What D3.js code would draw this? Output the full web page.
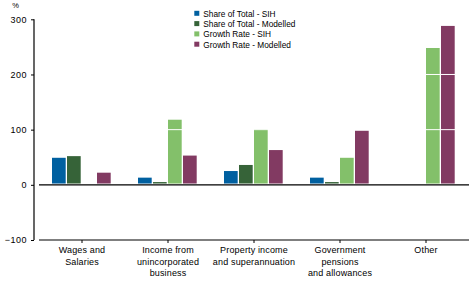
<!DOCTYPE html>
<html>
<head>
<meta charset="utf-8">
<script src="https://cdn.jsdelivr.net/npm/d3@7"></script>
<style>
  body { margin: 0; background: #fff; }
  svg { display: block; font-family: "Liberation Sans", Arial, sans-serif; }
  text { fill: #000; }
</style>
</head>
<body>
<div class="chart"></div>
<script>
// categories and series
const categories = [
    ["Wages and", "Salaries"],
    ["Income from", "unincorporated", "business"],
    ["Property income", "and superannuation"],
    ["Government", "pensions", "and allowances"],
    ["Other"]
];
const seriesNames = ["Share of Total - SIH", "Share of Total - Modelled", "Growth Rate - SIH", "Growth Rate - Modelled"];
const shareSIH = [49, 13, 25, 13, null];
const shareModelled = [52, 5, 36, 5, null];
const growthSIH = [null, 118, 101, 49, 248];
const growthModelled = [22, 53, 63, 98, 288];
const yTicks = [-100, 0, 100, 200, 300];
const colours = ["#0060a0", "#366338", "#83c06a", "#823a62"];

const width = 472;
const height = 283;
const svg = d3.select(".chart")
    .append("svg")
    .attr("width", width)
    .attr("height", height);

const y = d3.scaleLinear().domain([-100, 300]).range([240, 19.3]);
const x = d3.scaleBand().domain(d3.range(categories.length)).range([39, 469]);
const inner = d3.scaleBand().domain(d3.range(seriesNames.length)).range([-30, 30]);

const series = [shareSIH, shareModelled, growthSIH, growthModelled];
const bars = [];
series.forEach((vals, s) => vals.forEach((v, c) => {
    if (v !== null) bars.push({ s: s, c: c, v: v });
}));

//bars
svg.selectAll("rect.bar")
    .data(bars)
    .enter()
    .append("rect")
    .attr("class", "bar")
    .attr("x", d => x(d.c) + x.bandwidth() / 2 + inner(d.s))
    .attr("width", inner.bandwidth() - 1.3)
    .attr("y", d => y(d.v))
    .attr("height", d => y(0) - y(d.v) - 1.3)
    .attr("fill", d => colours[d.s]);

//white gridlines over the bars
svg.selectAll("line.grid")
    .data([100, 200, 300])
    .enter()
    .append("line")
    .attr("x1", 39).attr("x2", 469)
    .attr("y1", d => y(d)).attr("y2", d => y(d))
    .attr("stroke", "#fff")
    .attr("stroke-width", 1);

//zero line and bottom line
svg.selectAll("line.base")
    .data([0, -100])
    .enter()
    .append("line")
    .attr("x1", 39).attr("x2", 469)
    .attr("y1", d => y(d)).attr("y2", d => y(d))
    .attr("stroke", "#000")
    .attr("stroke-width", 1.2);

//y axis
const yAxis = d3.axisLeft(y).tickValues(yTicks).tickSize(3).tickPadding(4)
    .tickFormat(d => d < 0 ? "\u2212" + Math.abs(d) : d);
const ya = svg.append("g").attr("transform", "translate(34,0)").call(yAxis);
ya.select(".domain").attr("d", `M0,${y(300)}V${y(-100)}`).attr("stroke-width", 1.2);
ya.selectAll("text")
    .style("font-size", "9px")
    .style("letter-spacing", "0.5px")
    .style("font-family", "Liberation Sans, Arial, sans-serif");

svg.append("text")
    .attr("x", 15.5).attr("y", 7.5)
    .attr("text-anchor", "middle")
    .style("font-size", "7.5px")
    .text("%");

//category ticks and labels
const xa = svg.append("g");
xa.selectAll("line")
    .data(d3.range(categories.length))
    .enter()
    .append("line")
    .attr("x1", d => x(d) + x.bandwidth() / 2)
    .attr("x2", d => x(d) + x.bandwidth() / 2)
    .attr("y1", y(-100)).attr("y2", y(-100) + 3)
    .attr("stroke", "#000");
xa.selectAll("text")
    .data(categories)
    .enter()
    .append("text")
    .attr("text-anchor", "middle")
    .attr("x", (d, i) => x(i) + x.bandwidth() / 2)
    .attr("y", y(-100) + 13)
    .style("font-size", "9px")
    .style("letter-spacing", "0.15px")
    .each(function(d) {
        d3.select(this).selectAll("tspan")
            .data(d)
            .enter()
            .append("tspan")
            .attr("x", d3.select(this).attr("x"))
            .attr("dy", (t, j) => j === 0 ? 0 : 11.7)
            .text(t => t);
    });

//legend
const legend = svg.append("g").attr("transform", "translate(194.3,0)");
legend.selectAll("rect")
    .data(seriesNames)
    .enter()
    .append("rect")
    .attr("x", 0)
    .attr("y", (d, i) => 10.8 + i * 10.3)
    .attr("width", 5).attr("height", 5)
    .attr("fill", (d, i) => colours[i]);
legend.selectAll("text")
    .data(seriesNames)
    .enter()
    .append("text")
    .attr("x", 9)
    .attr("y", (d, i) => 16.8 + i * 10.3)
    .style("font-size", "8.3px")
    .text(d => d);
</script>
</body>
</html>
